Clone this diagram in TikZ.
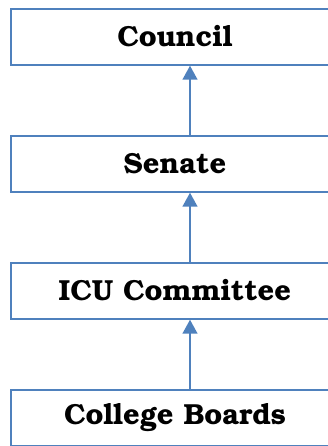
\documentclass[tikz,border=0pt]{standalone}
\usepackage[T1]{fontenc}
\usepackage{tikz}
\usetikzlibrary{arrows.meta}

\definecolor{boxblue}{RGB}{79,129,189}
\tikzset{
  unit/.style={draw=boxblue, line width=1.5pt, fill=white, minimum width=328pt,
    minimum height=56pt, inner sep=0pt, font=\fontfamily{pbk}\bfseries\fontsize{29}{33}\selectfont},
  up/.style={draw=boxblue, line width=1.5pt, -{Triangle[width=15pt, length=14pt]}}
}

\begin{document}
\begin{tikzpicture}[x=1pt, y=1pt]
    \useasboundingbox (0, 0) rectangle (328, 446);
    \clip (0, 0) rectangle (328, 446);
    \node[unit] (council) at (175, 409){Council};
    \node[unit] (senate) at (175, 282){Senate};
    \node[unit] (icu) at (175, 155){ICU Committee};
    \node[unit] (boards) at (175, 28){College Boards};
    \draw[up] ([xshift=15pt]boards.north)--([xshift=15pt]icu.south);
    \draw[up] ([xshift=15pt]icu.north)--([xshift=15pt]senate.south);
    \draw[up] ([xshift=15pt]senate.north)--([xshift=15pt]council.south);
  \end{tikzpicture}
\end{document}
